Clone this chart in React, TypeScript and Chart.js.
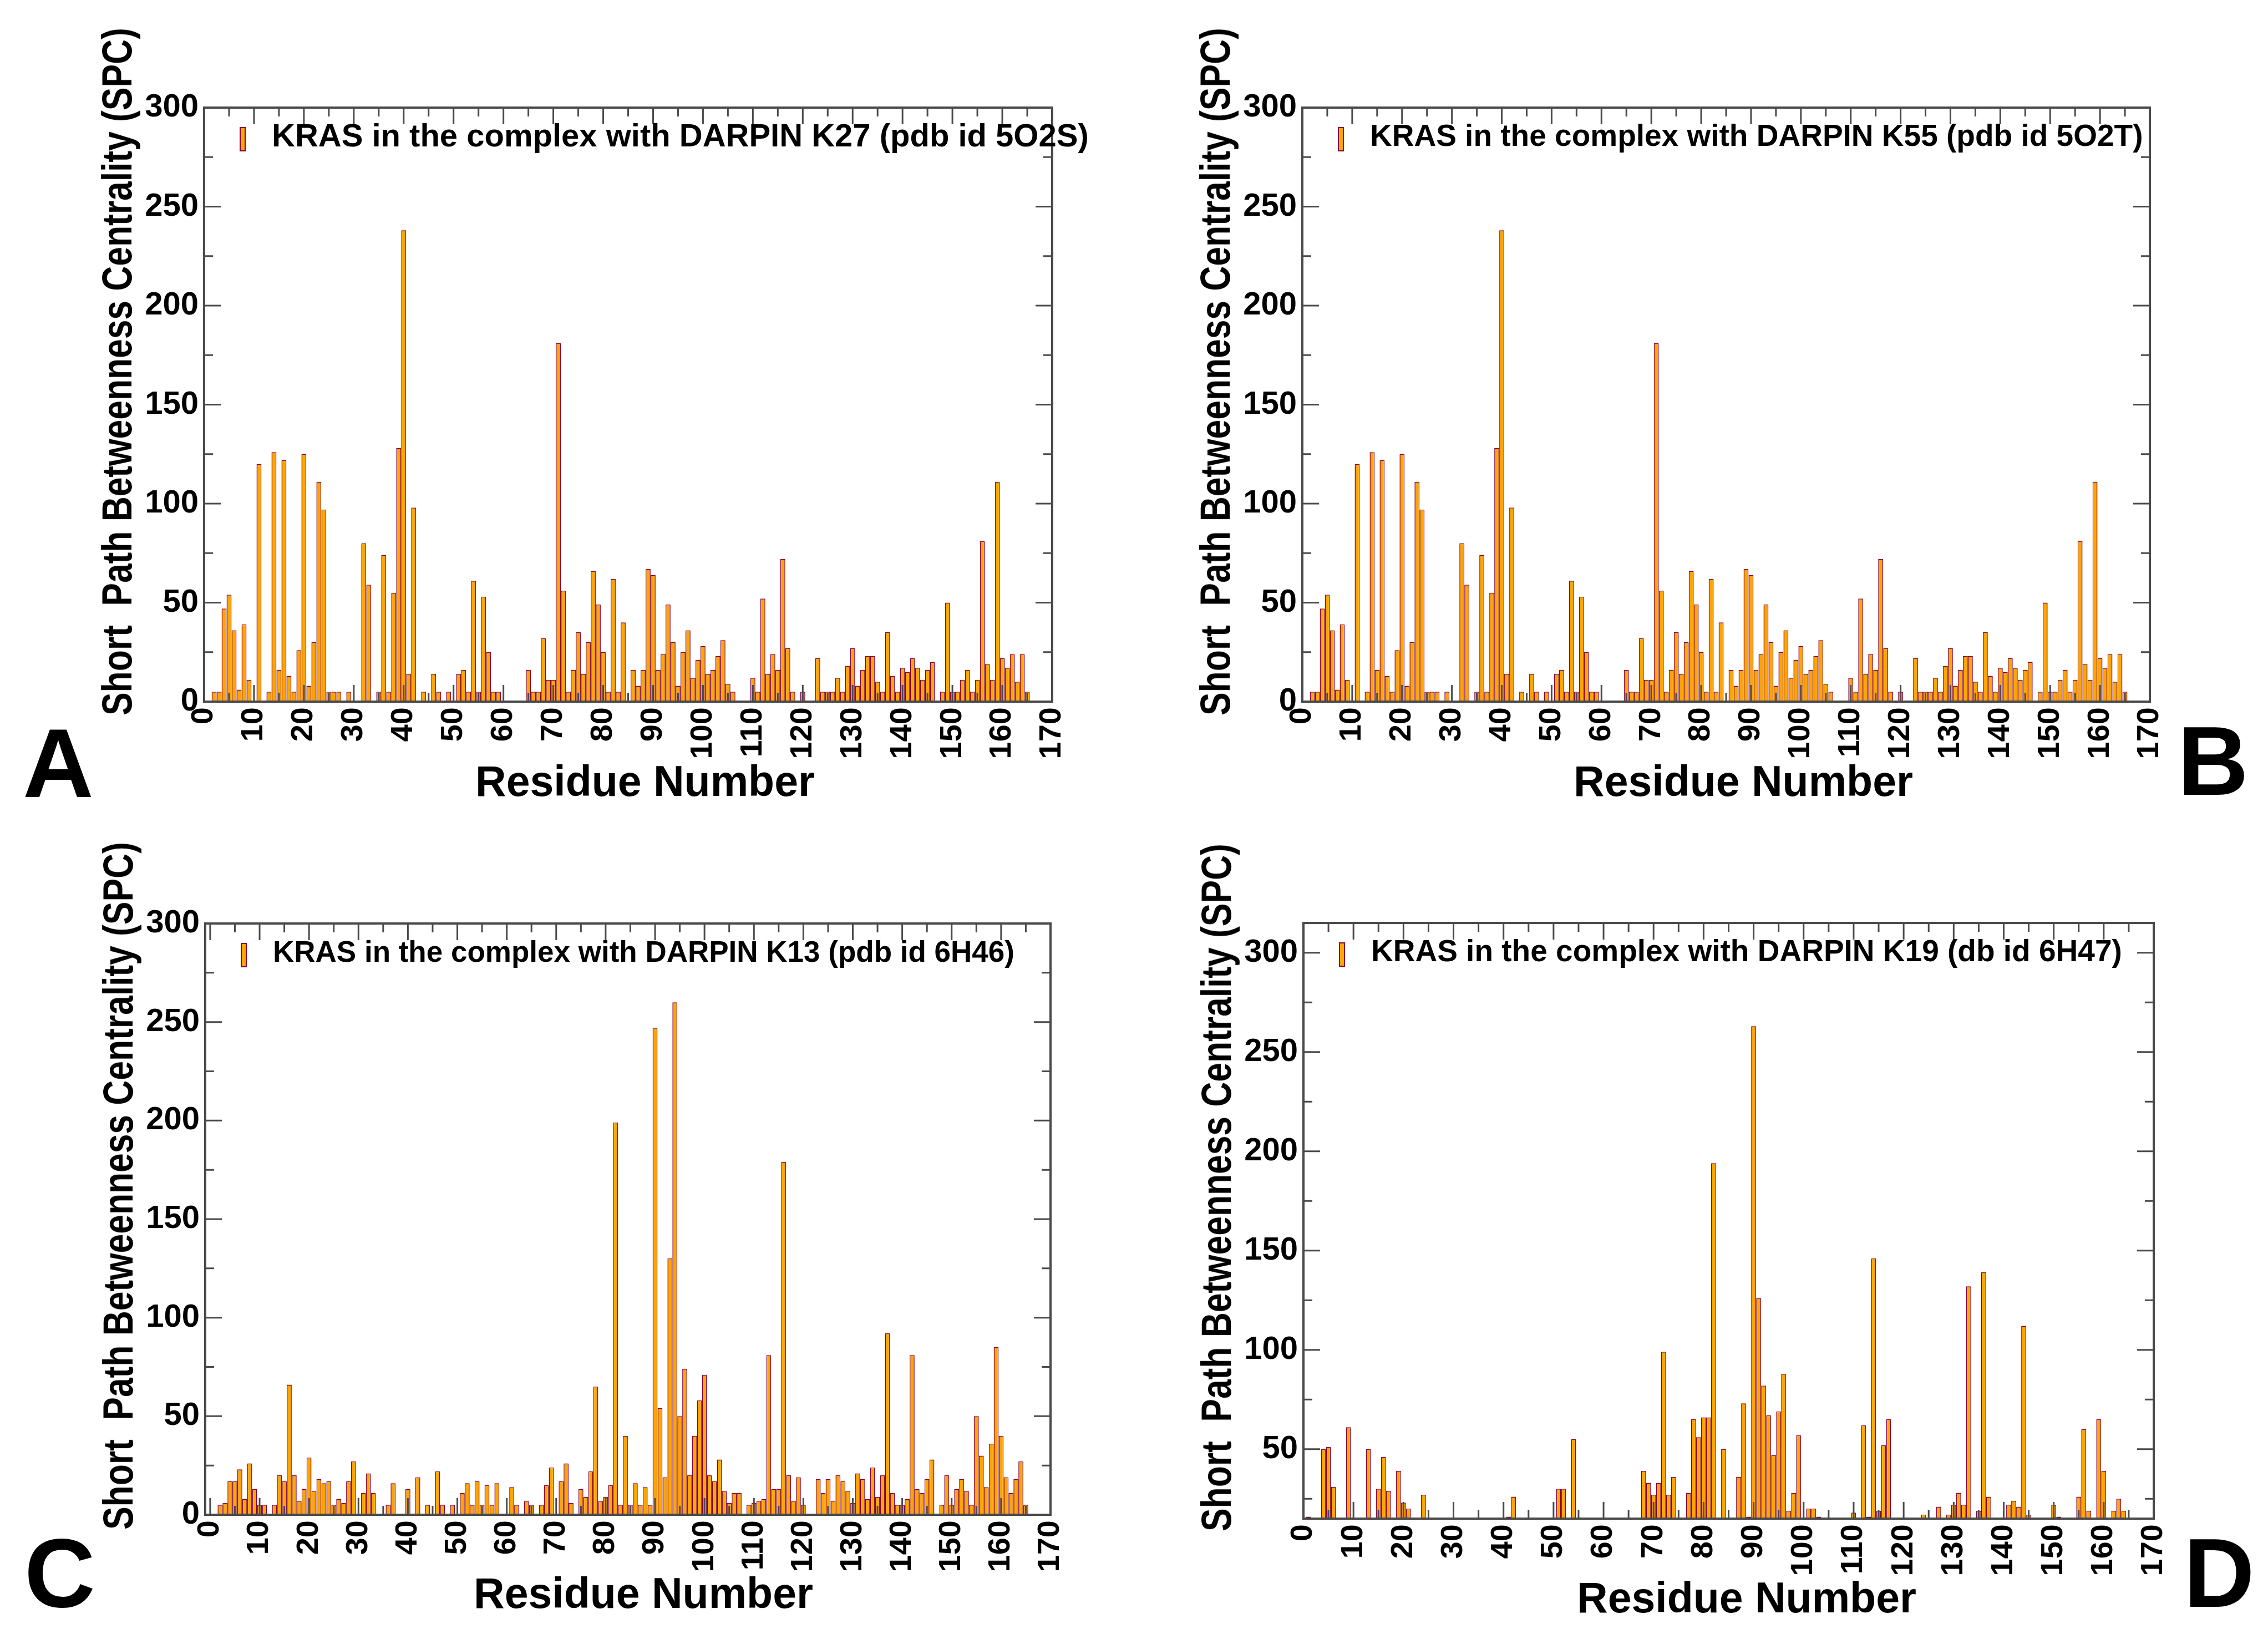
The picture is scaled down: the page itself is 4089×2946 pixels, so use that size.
import React, { useEffect, useRef } from "react";
import { Chart, registerables } from "chart.js";

Chart.register(...registerables);

// residue numbers on the x axis, SPC on the y axis
const X_TICKS = [0, 10, 20, 30, 40, 50, 60, 70, 80, 90, 100, 110, 120, 130, 140, 150, 160, 170];
const Y_TICKS = [0, 50, 100, 150, 200, 250, 300];

// SPC per residue, index 0 = residue 1 (null = no bar)
const K27_SPC = [
  null, 5, 5, 47, 54, 36, 6, 39, 11, null,
  120, null, 5, 126, 16, 122, 13, 5, 26, 125,
  8, 30, 111, 97, 5, 5, 5, null, 5, null,
  null, 80, 59, null, 5, 74, 5, 55, 128, 238,
  14, 98, null, 5, null, 14, 5, null, 5, null,
  14, 16, 5, 61, 5, 53, 25, 5, 5, null,
  null, null, null, null, 16, 5, 5, 32, 11, 11,
  181, 56, 5, 16, 35, 14, 30, 66, 49, 25,
  5, 62, 5, 40, null, 16, 8, 16, 67, 64,
  16, 24, 49, 30, 8, 25, 36, 12, 21, 28,
  14, 16, 23, 31, 9, 5, null, null, null, 12,
  5, 52, 14, 24, 16, 72, 27, 5, null, 5,
  null, null, 22, 5, 5, 5, 12, 5, 18, 27,
  8, 16, 23, 23, 10, 5, 35, 13, 5, 17,
  15, 22, 17, 11, 16, 20, null, 5, 50, 5,
  5, 11, 16, 5, 11, 81, 19, 11, 111, 22,
  17, 24, 10, 24, 5, null,
];

// panel B shows the same profile as panel A
const K55_SPC = [...K27_SPC];

const K13_SPC = [
  null, 5, 6, 17, 17, 23, 8, 26, 13, 5,
  5, null, 5, 20, 17, 66, 20, 7, 13, 29,
  12, 18, 16, 17, 5, 8, 6, 17, 27, null,
  11, 21, 11, null, null, 5, 16, null, null, 13,
  null, 19, null, 5, null, 22, 5, null, 5, null,
  11, 16, 5, 17, 5, 15, 5, 16, null, null,
  14, 5, null, 7, 5, null, 5, 15, 24, null,
  17, 26, 6, null, 13, 9, 22, 65, 7, 9,
  15, 199, 5, 40, 5, 16, 5, 14, 5, 247,
  54, 19, 130, 260, 50, 74, 20, 40, 58, 71,
  20, 17, 28, 12, 6, 11, 11, null, 5, 6,
  7, 8, 81, 13, 13, 179, 20, 7, 19, 5,
  null, null, 18, 11, 18, 7, 20, 17, 12, 6,
  21, 18, 8, 24, 9, 20, 92, 11, 5, 5,
  8, 81, 13, 11, 18, 28, null, 5, 20, 5,
  13, 18, 12, 5, 50, 30, 14, 36, 85, 40,
  19, 11, 18, 27, 5, null,
];

const K19_SPC = [
  16, null, null, 50, 51, 31, null, null, 61, null,
  null, null, 50, null, 30, 46, 29, null, 39, 23,
  20, null, null, 27, null, null, null, null, null, null,
  null, null, null, null, null, null, null, null, null, null,
  16, 26, null, null, null, null, null, null, null, null,
  30, 30, null, 55, null, null, null, null, null, null,
  null, null, null, null, null, null, null, 39, 33, 27,
  33, 99, 27, 36, null, null, 28, 65, 56, 66,
  66, 194, null, 50, null, null, 36, 73, 16, 263,
  126, 82, 67, 47, 69, 88, 19, 28, 57, null,
  20, 20, 16, null, null, null, null, null, null, 18,
  null, 62, 16, 146, 19, 52, 65, null, null, null,
  null, null, null, 17, null, null, 21, null, 17, 22,
  28, 22, 132, null, 19, 139, 26, null, null, null,
  22, 24, 21, 112, 17, null, null, null, null, 22,
  16, null, null, null, 26, 60, 19, null, 65, 39,
  null, 19, 25, 19, null, null,
];

const ORANGE = "#FFA500";
const MAROON = "#800040";
const FRAME = "#4a4a4a";
const FONT = "'Liberation Sans', Arial, Helvetica, sans-serif";

// room around the plot area inside each canvas
const PAD_L = 300;
const PAD_T = 100;
const PAD_R = 80;
const PAD_B = 130;

// inward ticks on all four sides plus the box
const frameTicks = {
  id: "frameTicks",
  afterDatasetsDraw(chart: any) {
    const { ctx, chartArea, scales } = chart;
    const { left, right, top, bottom } = chartArea;
    const x = scales.x;
    const y = scales.y;
    ctx.save();
    ctx.strokeStyle = FRAME;
    ctx.lineWidth = 3;
    ctx.beginPath();
    for (let v = Math.ceil(x.min / 5) * 5; v <= x.max; v += 5) {
      const px = x.getPixelForValue(v);
      const len = v % 10 === 0 ? 30 : 16;
      ctx.moveTo(px, bottom);
      ctx.lineTo(px, bottom - len);
      ctx.moveTo(px, top);
      ctx.lineTo(px, top + len);
    }
    for (let v = Math.ceil(y.min / 25) * 25; v <= y.max; v += 25) {
      const py = y.getPixelForValue(v);
      const len = v % 50 === 0 ? 30 : 16;
      ctx.moveTo(left, py);
      ctx.lineTo(left + len, py);
      ctx.moveTo(right, py);
      ctx.lineTo(right - len, py);
    }
    ctx.stroke();
    ctx.lineWidth = 4;
    ctx.strokeRect(left, top, right - left, bottom - top);
    ctx.restore();
  },
};

// legend sits inside the plot, top left
const insideLegend = {
  id: "insideLegend",
  afterDraw(chart: any, _args: any, opts: any) {
    const { ctx, chartArea } = chart;
    const ds = chart.data.datasets[0];
    ctx.save();
    ctx.fillStyle = ORANGE;
    ctx.strokeStyle = MAROON;
    ctx.lineWidth = 2;
    ctx.fillRect(chartArea.left + 65, chartArea.top + 36, 9, 42);
    ctx.strokeRect(chartArea.left + 65, chartArea.top + 36, 9, 42);
    ctx.fillStyle = "#000";
    ctx.font = `bold ${opts.size || 56}px ${FONT}`;
    ctx.textBaseline = "middle";
    ctx.fillText(ds.label, chartArea.left + 122, chartArea.top + 54);
    ctx.restore();
  },
};

type Area = { left: number; top: number; right: number; bottom: number };

interface PanelProps {
  label: string;
  values: (number | null)[];
  area: Area;
  xMin: number;
  yMin: number;
  yMax: number;
  legendSize: number;
}

const SpcPanel = ({ label, values, area, xMin, yMin, yMax, legendSize }: PanelProps) => {
  const canvasRef = useRef<HTMLCanvasElement>(null);

  useEffect(() => {
    if (!canvasRef.current) return;
    const points = values
      .map((v, i) => (v === null ? null : { x: i + 1, y: v }))
      .filter((p) => p !== null);

    const chart = new Chart(canvasRef.current, {
      type: "bar",
      data: {
        datasets: [
          {
            label,
            data: points as any,
            backgroundColor: ORANGE,
            borderColor: MAROON,
            borderWidth: 1.5,
            barPercentage: 0.98,
            categoryPercentage: 1,
          },
        ],
      },
      options: {
        animation: false,
        responsive: true,
        maintainAspectRatio: false,
        layout: { padding: { top: PAD_T, right: PAD_R, left: 0, bottom: 0 } },
        plugins: {
          legend: { display: false },
          tooltip: { enabled: false },
          insideLegend: { size: legendSize },
        } as any,
        scales: {
          x: {
            type: "linear",
            min: xMin,
            max: 170,
            offset: false,
            grid: { display: false, drawTicks: false, offset: false },
            border: { display: false },
            ticks: {
              autoSkip: false,
              minRotation: 90,
              maxRotation: 90,
              padding: 10,
              color: "#000",
              font: { family: FONT, size: 56, weight: "bold" },
              callback: (v: any) => String(v),
            },
            afterBuildTicks: (s: any) => {
              s.ticks = X_TICKS.map((v) => ({ value: v }));
            },
            afterFit: (s: any) => {
              s.height = PAD_B;
            },
          },
          y: {
            type: "linear",
            min: yMin,
            max: yMax,
            grid: { display: false, drawTicks: false },
            border: { display: false },
            ticks: {
              padding: 10,
              color: "#000",
              font: { family: FONT, size: 58, weight: "bold" },
              callback: (v: any) => String(v),
            },
            afterBuildTicks: (s: any) => {
              s.ticks = Y_TICKS.filter((v) => v >= yMin && v <= yMax).map((v) => ({ value: v }));
            },
            afterFit: (s: any) => {
              s.width = PAD_L;
            },
          },
        },
      },
      plugins: [frameTicks, insideLegend],
    });

    return () => {
      chart.destroy();
    };
  }, [label, values, xMin, yMin, yMax, legendSize]);

  return (
    <div
      style={{
        position: "absolute",
        left: area.left - PAD_L,
        top: area.top - PAD_T,
        width: area.right - area.left + PAD_L + PAD_R,
        height: area.bottom - area.top + PAD_T + PAD_B,
      }}
    >
      <canvas ref={canvasRef} />
    </div>
  );
};

const textBase: React.CSSProperties = {
  position: "absolute",
  fontFamily: FONT,
  fontWeight: "bold",
  lineHeight: 1,
  whiteSpace: "pre",
  color: "#000",
};

const YTitle = ({ cx, cy }: { cx: number; cy: number }) => (
  <div
    style={{
      ...textBase,
      left: cx,
      top: cy,
      fontSize: 76,
      transform: "translate(-50%, -50%) rotate(-90deg) scaleX(0.82)",
    }}
  >
    {"Short  Path Betweenness Centrality (SPC)"}
  </div>
);

const XTitle = ({ cx, cy }: { cx: number; cy: number }) => (
  <div style={{ ...textBase, left: cx, top: cy, fontSize: 77, transform: "translate(-50%, -50%)" }}>
    Residue Number
  </div>
);

const Letter = ({ x, cy, text }: { x: number; cy: number; text: string }) => (
  <div style={{ ...textBase, left: x, top: cy - 86, fontSize: 177 }}>{text}</div>
);

const App = () => {
  return (
    <div
      style={{
        position: "absolute",
        left: 0,
        top: 0,
        width: 4089,
        height: 2946,
        background: "#fff",
        overflow: "hidden",
      }}
    >
      <SpcPanel
        label="KRAS in the complex with DARPIN K27 (pdb id 5O2S)"
        values={K27_SPC}
        area={{ left: 368, top: 194, right: 1897, bottom: 1265 }}
        xMin={0}
        yMin={0}
        yMax={300}
        legendSize={58}
      />
      <SpcPanel
        label="KRAS in the complex with DARPIN K55 (pdb id 5O2T)"
        values={K55_SPC}
        area={{ left: 2348, top: 194, right: 3876, bottom: 1265 }}
        xMin={0}
        yMin={0}
        yMax={300}
        legendSize={55}
      />
      <SpcPanel
        label="KRAS in the complex with DARPIN K13 (pdb id 6H46)"
        values={K13_SPC}
        area={{ left: 370, top: 1665, right: 1894, bottom: 2731 }}
        xMin={-1}
        yMin={0}
        yMax={300}
        legendSize={53}
      />
      <SpcPanel
        label="KRAS in the complex with DARPIN K19 (db id 6H47)"
        values={K19_SPC}
        area={{ left: 2350, top: 1664, right: 3883, bottom: 2738 }}
        xMin={0}
        yMin={15}
        yMax={315}
        legendSize={55}
      />

      <YTitle cx={211} cy={670} />
      <YTitle cx={2191} cy={670} />
      <YTitle cx={213} cy={2138} />
      <YTitle cx={2193} cy={2141} />

      <XTitle cx={1163} cy={1408} />
      <XTitle cx={3143} cy={1408} />
      <XTitle cx={1160} cy={2872} />
      <XTitle cx={3149} cy={2880} />

      <Letter x={41} cy={1374} text="A" />
      <Letter x={3926} cy={1370} text="B" />
      <Letter x={44} cy={2834} text="C" />
      <Letter x={3937} cy={2834} text="D" />
    </div>
  );
};

export default App;
